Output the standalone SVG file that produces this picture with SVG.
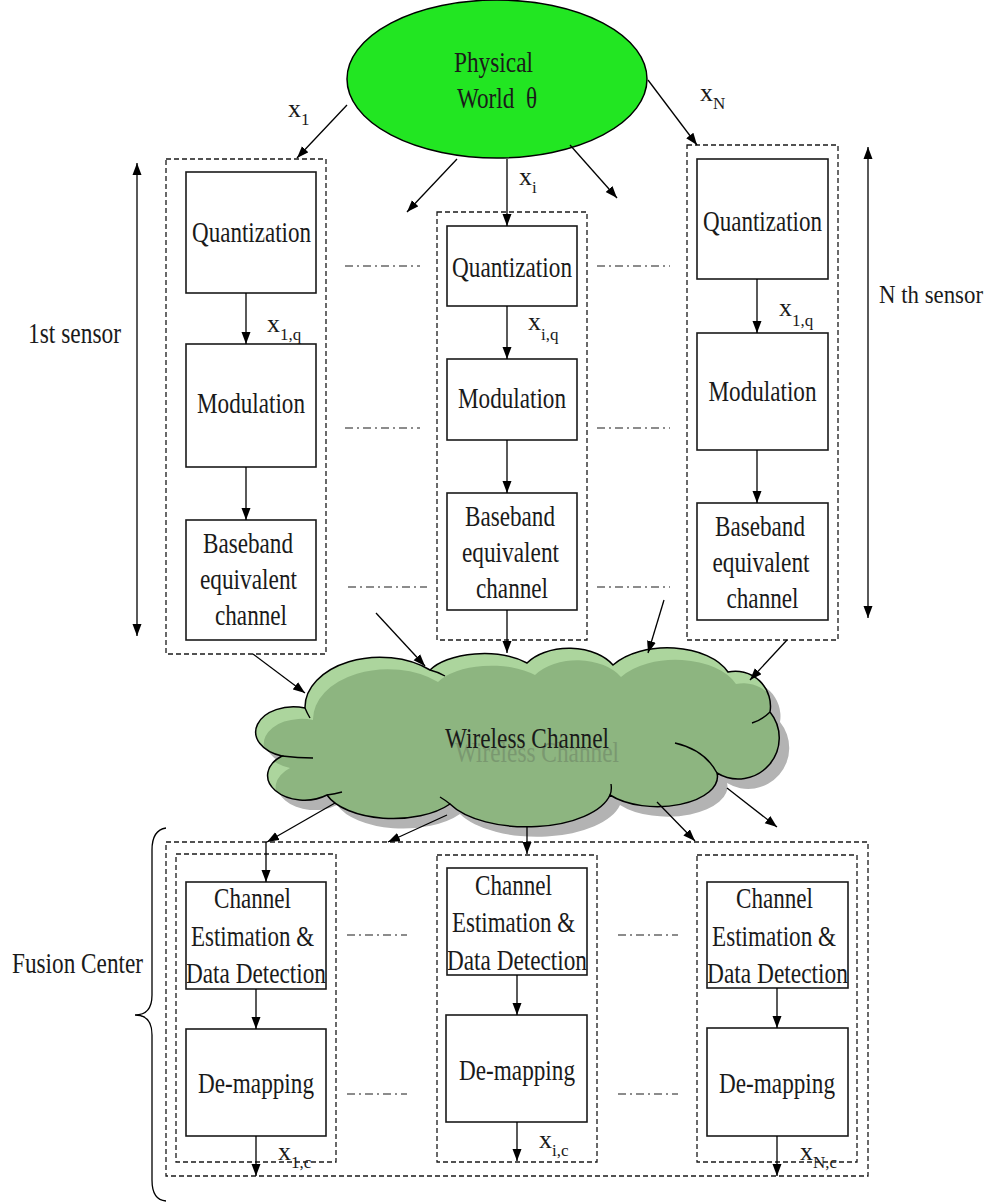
<svg xmlns="http://www.w3.org/2000/svg" xmlns:xlink="http://www.w3.org/1999/xlink" width="997" height="1202" viewBox="0 0 997 1202">
<style>
.box{fill:#fff;stroke:#1a1a1a;stroke-width:1.6}
.dash{fill:none;stroke:#1a1a1a;stroke-width:1.3;stroke-dasharray:5 3}
.dd{stroke:#1a1a1a;stroke-width:1.2;stroke-dasharray:8 4 2 4;fill:none}
.arr{stroke:#000;stroke-width:1.3;fill:none;marker-end:url(#ah)}
.dbl{stroke:#000;stroke-width:1.3;fill:none;marker-end:url(#ah);marker-start:url(#ah2)}
.t{font-family:"Liberation Serif","Times New Roman",serif;font-size:29px;fill:#1a1a1a;text-anchor:middle}
.lbl{font-family:"Liberation Serif","Times New Roman",serif;font-size:26px;fill:#1a1a1a}
.sub{font-size:17px}
.inner{fill:none;stroke:#000;stroke-width:1.4}
</style>
<defs>
<marker id="ah" markerUnits="userSpaceOnUse" markerWidth="12" markerHeight="10" refX="12" refY="4.5" orient="auto"><path d="M0,0 L12,4.5 L0,9 z" fill="#000"/></marker>
<marker id="ah2" markerUnits="userSpaceOnUse" markerWidth="12" markerHeight="10" refX="0" refY="4.5" orient="auto"><path d="M12,0 L0,4.5 L12,9 z" fill="#000"/></marker>
<path id="cloudPath" d="M305,708 A36,24 0 1 0 282,756 A30,20 0 0 0 327,795 A70,35 0 0 0 450,804 A85,40 0 0 0 610,795 A60,30 0 0 0 717,773 A41,41 0 0 0 770,712 A35,35 0 0 0 728,672 A65,38 0 0 0 613,665 A50,32 0 0 0 527,663 A60,30 0 0 0 430,670 A75,50 0 0 0 305,708 Z"/>
<clipPath id="cloudClip"><use xlink:href="#cloudPath"/></clipPath>
</defs>
<rect width="997" height="1202" fill="#fff"/>

<g id="physical-world">
<ellipse cx="497" cy="79" rx="150" ry="79" fill="#22e622" stroke="#000" stroke-width="1.5"/>
<text class="t" x="493.5" y="72" textLength="79" lengthAdjust="spacingAndGlyphs">Physical</text>
<text class="t" x="497" y="108" textLength="80" lengthAdjust="spacingAndGlyphs" style="white-space:pre">World  θ</text>
</g>

<g id="labels">
<text class="lbl" x="288" y="117">x<tspan class="sub" dy="8">1</tspan></text>
<text class="lbl" x="519" y="185">x<tspan class="sub" dy="8">i</tspan></text>
<text class="lbl" x="700" y="101">x<tspan class="sub" dy="8">N</tspan></text>
<text class="t" x="74.5" y="343" textLength="93" lengthAdjust="spacingAndGlyphs">1st sensor</text>
<text class="t" x="931" y="303" textLength="104" lengthAdjust="spacingAndGlyphs" style="font-size:26px">N th sensor</text>
<text class="t" x="77.5" y="973" textLength="131" lengthAdjust="spacingAndGlyphs">Fusion Center</text>
</g>

<g id="sensor-1">
<rect class="dash" x="166" y="159" width="160" height="495"/>
<rect class="box" x="186" y="172" width="130" height="121"/>
<text class="t" x="251.5" y="242" textLength="119" lengthAdjust="spacingAndGlyphs">Quantization</text>
<rect class="box" x="186" y="344" width="130" height="123"/>
<text class="t" x="251" y="413" textLength="108" lengthAdjust="spacingAndGlyphs">Modulation</text>
<rect class="box" x="186" y="520" width="130" height="120"/>
<text class="t" x="248" y="553" textLength="90" lengthAdjust="spacingAndGlyphs">Baseband</text>
<text class="t" x="248.5" y="589" textLength="97" lengthAdjust="spacingAndGlyphs">equivalent</text>
<text class="t" x="251" y="625" textLength="72" lengthAdjust="spacingAndGlyphs">channel</text>
<text class="lbl" x="267" y="332">x<tspan class="sub" dy="8">1,q</tspan></text>
</g>

<g id="sensor-i">
<rect class="dash" x="437" y="212" width="150" height="428"/>
<rect class="box" x="447" y="226" width="130" height="80"/>
<text class="t" x="512" y="277" textLength="120" lengthAdjust="spacingAndGlyphs">Quantization</text>
<rect class="box" x="447" y="359" width="130" height="81"/>
<text class="t" x="512" y="408" textLength="108" lengthAdjust="spacingAndGlyphs">Modulation</text>
<rect class="box" x="447" y="493" width="130" height="117"/>
<text class="t" x="510" y="526" textLength="90" lengthAdjust="spacingAndGlyphs">Baseband</text>
<text class="t" x="510.5" y="562" textLength="97" lengthAdjust="spacingAndGlyphs">equivalent</text>
<text class="t" x="512" y="598" textLength="72" lengthAdjust="spacingAndGlyphs">channel</text>
<text class="lbl" x="528" y="330">x<tspan class="sub" dy="10">i,q</tspan></text>
</g>

<g id="sensor-N">
<rect class="dash" x="687" y="145" width="151" height="495"/>
<rect class="box" x="697" y="159" width="131" height="120"/>
<text class="t" x="762.5" y="231" textLength="119" lengthAdjust="spacingAndGlyphs">Quantization</text>
<rect class="box" x="697" y="333" width="131" height="117"/>
<text class="t" x="762.5" y="401" textLength="108" lengthAdjust="spacingAndGlyphs">Modulation</text>
<rect class="box" x="697" y="503" width="131" height="117"/>
<text class="t" x="760" y="536" textLength="90" lengthAdjust="spacingAndGlyphs">Baseband</text>
<text class="t" x="761" y="572" textLength="97" lengthAdjust="spacingAndGlyphs">equivalent</text>
<text class="t" x="762.5" y="608" textLength="72" lengthAdjust="spacingAndGlyphs">channel</text>
<text class="lbl" x="779" y="316">x<tspan class="sub" dy="10">1,q</tspan></text>
</g>

<g id="wireless-channel">
<use xlink:href="#cloudPath" transform="translate(10,10)" fill="#b3b3b3"/>
<use xlink:href="#cloudPath" fill="#acd59d"/>
<g clip-path="url(#cloudClip)"><use xlink:href="#cloudPath" transform="translate(8,12)" fill="#8db580"/></g>
<use xlink:href="#cloudPath" fill="none" stroke="#000" stroke-width="1.5"/>
<path class="inner" d="M282,756 Q298,758 313,758 M327,795 Q335,794 342,792 M450,804 Q445,800 440,797 M610,795 Q612,790 611,784 M717,773 Q705,750 675,743 M770,712 Q762,720 752,723 M430,670 Q438,672 445,676 M305,708 Q307,713 310,718"/>
<text class="t" x="537" y="762" textLength="164" lengthAdjust="spacingAndGlyphs" style="fill:#7a9870">Wireless Channel</text>
<text class="t" x="527" y="748" textLength="164" lengthAdjust="spacingAndGlyphs">Wireless Channel</text>
</g>

<g id="fusion-center">
<path d="M166,828 Q152,830 152,850 L152,995 Q152,1015 135,1015 Q152,1015 152,1035 L152,1180 Q152,1200 166,1201" fill="none" stroke="#000" stroke-width="1.3"/>
<rect class="dash" x="166" y="842" width="702" height="334"/>
</g>

<g id="fc-1">
<rect class="dash" x="176" y="854" width="160" height="308"/>
<rect class="box" x="186" y="882" width="140" height="107"/>
<text class="t" x="252.5" y="908" textLength="77" lengthAdjust="spacingAndGlyphs">Channel</text>
<text class="t" x="252.5" y="946" textLength="123" lengthAdjust="spacingAndGlyphs">Estimation &amp;</text>
<text class="t" x="256" y="983" textLength="140" lengthAdjust="spacingAndGlyphs">Data Detection</text>
<rect class="box" x="186" y="1029" width="140" height="107"/>
<text class="t" x="256" y="1093" textLength="116" lengthAdjust="spacingAndGlyphs">De-mapping</text>
<text class="lbl" x="278" y="1160">x<tspan class="sub" dy="8">1,c</tspan></text>
</g>

<g id="fc-i">
<rect class="dash" x="437" y="855" width="160" height="307"/>
<rect class="box" x="447" y="868" width="140" height="107"/>
<text class="t" x="513.5" y="895" textLength="77" lengthAdjust="spacingAndGlyphs">Channel</text>
<text class="t" x="513.5" y="932" textLength="123" lengthAdjust="spacingAndGlyphs">Estimation &amp;</text>
<text class="t" x="517" y="970" textLength="140" lengthAdjust="spacingAndGlyphs">Data Detection</text>
<rect class="box" x="446" y="1015" width="141" height="107"/>
<text class="t" x="517" y="1080" textLength="116" lengthAdjust="spacingAndGlyphs">De-mapping</text>
<text class="lbl" x="539" y="1148">x<tspan class="sub" dy="8">i,c</tspan></text>
</g>

<g id="fc-N">
<rect class="dash" x="697" y="855" width="160" height="307"/>
<rect class="box" x="707" y="882" width="141" height="106"/>
<text class="t" x="774.5" y="908" textLength="77" lengthAdjust="spacingAndGlyphs">Channel</text>
<text class="t" x="774" y="946" textLength="124" lengthAdjust="spacingAndGlyphs">Estimation &amp;</text>
<text class="t" x="777.5" y="983" textLength="141" lengthAdjust="spacingAndGlyphs">Data Detection</text>
<rect class="box" x="707" y="1028" width="141" height="108"/>
<text class="t" x="777" y="1093" textLength="116" lengthAdjust="spacingAndGlyphs">De-mapping</text>
<text class="lbl" x="800" y="1160">x<tspan class="sub" dy="8">N,c</tspan></text>
</g>

<g id="dots">
<path class="dd" d="M345,266 H420 M597,266 H670 M345,428 H420 M597,428 H670 M348,587 H427 M597,587 H670 M347,935 H407 M618,935 H678 M347,1094 H407 M618,1094 H678"/>
</g>

<g id="connectors">
<line class="arr" x1="347" y1="105" x2="297" y2="158"/>
<line class="arr" x1="457" y1="159" x2="407" y2="212"/>
<line class="arr" x1="507" y1="159" x2="507" y2="226"/>
<line class="arr" x1="570" y1="145" x2="617" y2="198"/>
<line class="arr" x1="648" y1="80" x2="697" y2="145"/>
<line class="arr" x1="246" y1="293" x2="246" y2="344"/>
<line class="arr" x1="246" y1="467" x2="246" y2="520"/>
<line class="arr" x1="507" y1="306" x2="507" y2="359"/>
<line class="arr" x1="507" y1="440" x2="507" y2="493"/>
<line class="arr" x1="757" y1="279" x2="757" y2="333"/>
<line class="arr" x1="757" y1="450" x2="757" y2="503"/>
<line class="arr" x1="507" y1="610" x2="507" y2="653"/>
<line class="arr" x1="253" y1="654" x2="305" y2="693"/>
<line class="arr" x1="376" y1="613" x2="425" y2="666"/>
<line class="arr" x1="664" y1="600" x2="648" y2="653"/>
<line class="arr" x1="787" y1="640" x2="750" y2="680"/>
<line class="arr" x1="335" y1="803" x2="267" y2="842"/>
<line class="arr" x1="447" y1="815" x2="388" y2="842"/>
<line class="arr" x1="527" y1="827" x2="527" y2="854"/>
<line class="arr" x1="657" y1="802" x2="695" y2="841"/>
<line class="arr" x1="727" y1="788" x2="777" y2="827"/>
<line class="arr" x1="266" y1="842" x2="266" y2="882"/>
<line class="arr" x1="256" y1="989" x2="256" y2="1029"/>
<line class="arr" x1="256" y1="1136" x2="256" y2="1176"/>
<line class="arr" x1="517" y1="975" x2="517" y2="1015"/>
<line class="arr" x1="517" y1="1122" x2="517" y2="1161"/>
<line class="arr" x1="777" y1="988" x2="777" y2="1028"/>
<line class="arr" x1="777" y1="1136" x2="777" y2="1176"/>
<line class="dbl" x1="137" y1="163" x2="137" y2="636"/>
<line class="dbl" x1="868" y1="147" x2="868" y2="618"/>
</g>
</svg>
